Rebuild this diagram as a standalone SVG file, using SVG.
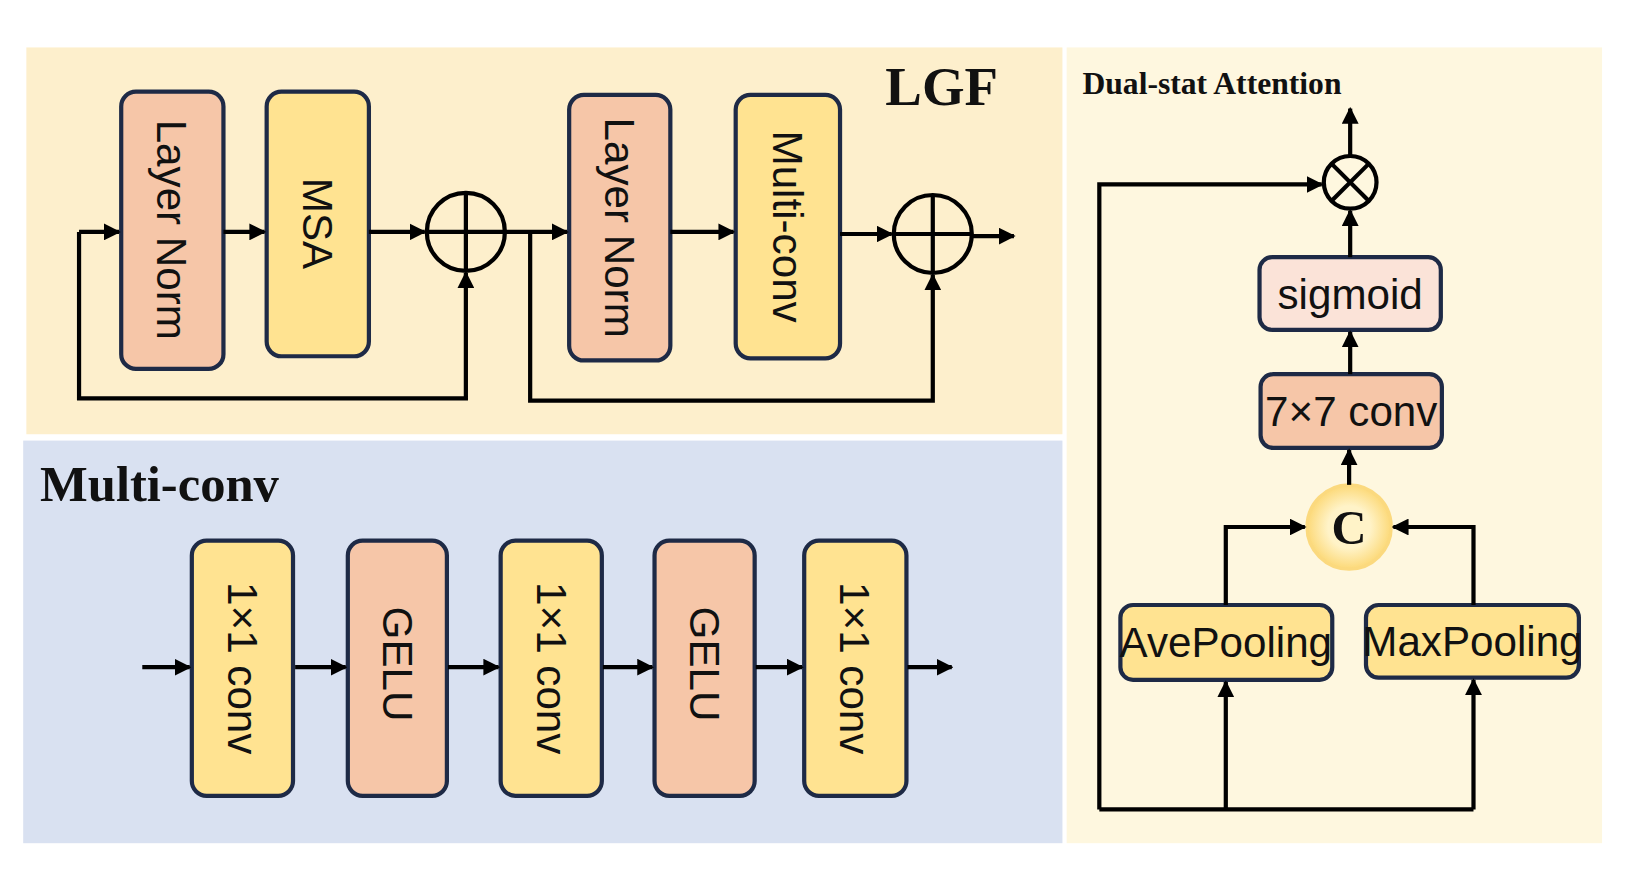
<svg xmlns="http://www.w3.org/2000/svg" width="1633" height="884" viewBox="0 0 1633 884">
<defs>
<marker id="ah" viewBox="0 0 10 10" refX="9" refY="5" markerWidth="4" markerHeight="4" orient="auto" markerUnits="strokeWidth"><path d="M0,0 L10,5 L0,10 z" fill="#000"/></marker>
<radialGradient id="cg"><stop offset="0.5" stop-color="#FFF3C8"/><stop offset="1" stop-color="#FCD978"/></radialGradient>
</defs>
<style>
.n{stroke:#1E2A46;stroke-width:4}
.s{fill:#F6C6A8}.y{fill:#FFE391}.p{fill:#FBE3D8}
.t{font-family:"Liberation Sans",Arial,sans-serif;font-size:40px;fill:#111;text-anchor:middle;dominant-baseline:central}
.h{font-family:"Liberation Serif","Times New Roman",serif;font-weight:bold;fill:#111}
.c path,.c line,.c polyline{stroke:#000;stroke-width:4;fill:none}
.a{marker-end:url(#ah)}
</style>
<rect width="1633" height="884" fill="#fff"/>
<g transform="scale(1.054)">
<rect x="25" y="45" width="983" height="367" fill="#FDEFCC"/>
<rect x="22" y="418" width="986" height="382" fill="#D9E1F1"/>
<rect x="1012" y="45" width="508" height="755" fill="#FEF7DF"/>
<text class="h" x="840" y="100" font-size="52">LGF</text>
<text class="h" x="38" y="475" font-size="48">Multi-conv</text>
<text class="h" x="1027" y="89" font-size="30">Dual-stat Attention</text>

<g id="ln1"><rect class="n s" x="115" y="87" width="97" height="263" rx="14"/><text class="t" transform="translate(163,218) rotate(90)">Layer Norm</text></g>
<g id="msa"><rect class="n y" x="253" y="87" width="97" height="251" rx="14"/><text class="t" transform="translate(301,212) rotate(90)" font-size="44">MSA</text></g>
<g id="ln2"><rect class="n s" x="540" y="90" width="96" height="252" rx="14"/><text class="t" transform="translate(588,216) rotate(90)">Layer Norm</text></g>
<g id="mc"><rect class="n y" x="698" y="90" width="99" height="250" rx="14"/><text class="t" transform="translate(747,215) rotate(90)">Multi-conv</text></g>
<g id="add1" fill="none" stroke="#000" stroke-width="4"><circle cx="442" cy="220" r="37"/><line x1="405" y1="220" x2="479" y2="220"/><line x1="442" y1="183" x2="442" y2="257"/></g>
<g id="add2" fill="none" stroke="#000" stroke-width="4"><circle cx="885" cy="222" r="37"/><line x1="848" y1="222" x2="922" y2="222"/><line x1="885" y1="185" x2="885" y2="259"/></g>

<g id="c1"><rect class="n y" x="182" y="513" width="96" height="242" rx="14"/><text class="t" transform="translate(230,634) rotate(90)">1×1 conv</text></g>
<g id="g1"><rect class="n s" x="330" y="513" width="94" height="242" rx="14"/><text class="t" transform="translate(377,630) rotate(90)">GELU</text></g>
<g id="c2"><rect class="n y" x="475" y="513" width="96" height="242" rx="14"/><text class="t" transform="translate(523,634) rotate(90)">1×1 conv</text></g>
<g id="g2"><rect class="n s" x="621" y="513" width="95" height="242" rx="14"/><text class="t" transform="translate(668,630) rotate(90)">GELU</text></g>
<g id="c3"><rect class="n y" x="763" y="513" width="97" height="242" rx="14"/><text class="t" transform="translate(811,634) rotate(90)">1×1 conv</text></g>

<g id="mul" fill="none" stroke="#000" stroke-width="4"><circle cx="1281" cy="173" r="25"/><line x1="1263" y1="155" x2="1299" y2="191"/><line x1="1299" y1="155" x2="1263" y2="191"/></g>
<g id="sig"><rect class="n p" x="1195" y="244" width="172" height="69" rx="12"/><text class="t" x="1281" y="279" font-size="36">sigmoid</text></g>
<g id="conv7"><rect class="n s" x="1196" y="355" width="172" height="70" rx="12"/><text class="t" x="1282" y="390" font-size="36">7×7 conv</text></g>
<g id="cat"><circle cx="1280" cy="500" r="40" fill="url(#cg)" stroke="#FBD97E" stroke-width="3"/><text class="h" x="1280" y="516" font-size="46" text-anchor="middle">C</text></g>
<g id="ave"><rect class="n y" x="1063" y="574" width="201" height="71" rx="12"/><text class="t" x="1163" y="610" font-size="34">AvePooling</text></g>
<g id="max"><rect class="n y" x="1296" y="574" width="202" height="69" rx="12"/><text class="t" x="1397" y="609" font-size="34">MaxPooling</text></g>

<g id="connectors" class="c">
<path class="a" d="M75,220 H113"/>
<path class="a" d="M212,220 H251"/>
<path class="a" d="M350,220 H403"/>
<path class="a" d="M479,220 H538"/>
<path class="a" d="M636,220 H696"/>
<path class="a" d="M797,222 H846"/>
<path class="a" d="M922,224 H962"/>
<path class="a" d="M75,220 V378 H442 V259"/>
<path class="a" d="M503,220 V380 H885 V261"/>
<path class="a" d="M135,633 H180"/>
<path class="a" d="M280,633 H328"/>
<path class="a" d="M425,633 H473"/>
<path class="a" d="M572,633 H619"/>
<path class="a" d="M717,633 H761"/>
<path class="a" d="M861,633 H903"/>
<path class="a" d="M1281,148 V103"/>
<path class="a" d="M1281,244 V200"/>
<path class="a" d="M1281,355 V315"/>
<path class="a" d="M1280,460 V427"/>
<path class="a" d="M1163,574 V500 H1238"/>
<path class="a" d="M1398,574 V500 H1322"/>
<path d="M1043,768 H1398"/>
<path class="a" d="M1163,768 V647"/>
<path class="a" d="M1398,768 V645"/>
<path class="a" d="M1043,768 V175 H1254"/>
</g>
</g>
</svg>
